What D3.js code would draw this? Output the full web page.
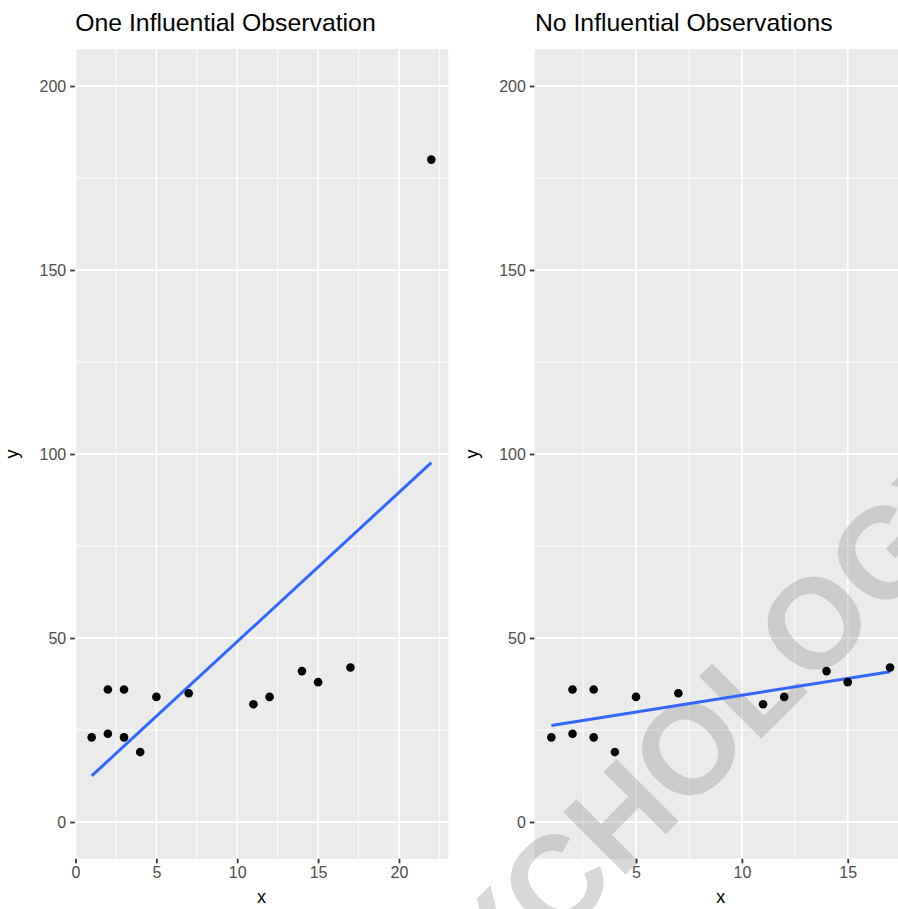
<!DOCTYPE html>
<html>
<head>
<meta charset="utf-8">
<script src="https://cdn.jsdelivr.net/npm/d3@7"></script>
<style>
  html, body { margin: 0; padding: 0; background: #ffffff; }
  svg { display: block; font-family: "Liberation Sans", Arial, Helvetica, sans-serif; }
</style>
</head>
<body>
<svg id="chart" width="898" height="909"></svg>
<script>
// ---------- data ----------
const xAll = [1, 2, 2, 3, 3, 4, 5, 7, 11, 12, 14, 15, 17, 22];
const yAll = [23, 36, 24, 36, 23, 19, 34, 35, 32, 34, 41, 38, 42, 180];
const xNoInfl = [1, 2, 2, 3, 3, 4, 5, 7, 11, 12, 14, 15, 17];
const yNoInfl = [23, 36, 24, 36, 23, 19, 34, 35, 32, 34, 41, 38, 42];
const titles = ["One Influential Observation", "No Influential Observations"];
const yLimits = [0, 200];
const yTicks = [0, 50, 100, 150, 200];
const yMinor = [25, 75, 125, 175];
const xTicksLeft = [0, 5, 10, 15, 20];
const xMinorLeft = [2.5, 7.5, 12.5, 17.5, 22.5];
const xTicksRight = [5, 10, 15];
const xMinorRight = [2.5, 7.5, 12.5, 17.5];
const watermarkText = "PSYCHOLOGY";

// ---------- helpers ----------
function expand(lo, hi) { const d = (hi - lo) * 0.05; return [lo - d, hi + d]; }
function ols(xs, ys) {
  const n = xs.length, mx = d3.mean(xs), my = d3.mean(ys);
  let sxy = 0, sxx = 0;
  for (let i = 0; i < n; i++) { sxy += (xs[i] - mx) * (ys[i] - my); sxx += (xs[i] - mx) ** 2; }
  const b = sxy / sxx; return { a: my - b * mx, b };
}

const svg = d3.select("#chart");
svg.append("rect").attr("width", 898).attr("height", 909).attr("fill", "#ffffff");

const panels = [
  { xs: xAll, ys: yAll, title: titles[0], ticks: xTicksLeft, minor: xMinorLeft, left: 74.7, right: 448.3, ylabX: 18 },
  { xs: xNoInfl, ys: yNoInfl, title: titles[1], ticks: xTicksRight, minor: xMinorRight, left: 534.4, right: 907, ylabX: 478 }
];
const panelTop = 49.2, panelBottom = 858.8;

const layerBg = svg.append("g");
const layerWm = svg.append("g");
const layerFg = svg.append("g");

panels.forEach(p => {
  const x = d3.scaleLinear().domain(expand(d3.min(p.xs), d3.max(p.xs))).range([p.left, p.right]);
  const y = d3.scaleLinear().domain(expand(yLimits[0], yLimits[1])).range([panelBottom, panelTop]);

  // panel background + grid
  const bg = layerBg.append("g");
  bg.append("rect").attr("x", p.left).attr("y", panelTop).attr("width", p.right - p.left).attr("height", panelBottom - panelTop).attr("fill", "#ebebeb");
  bg.selectAll(".ymin").data(yMinor).join("line")
    .attr("x1", p.left).attr("x2", p.right).attr("y1", d => y(d)).attr("y2", d => y(d))
    .attr("stroke", "#ffffff").attr("stroke-width", 0.9);
  bg.selectAll(".xmin").data(p.minor).join("line")
    .attr("y1", panelTop).attr("y2", panelBottom).attr("x1", d => x(d)).attr("x2", d => x(d))
    .attr("stroke", "#ffffff").attr("stroke-width", 0.9);
  bg.selectAll(".ymaj").data(yTicks).join("line")
    .attr("x1", p.left).attr("x2", p.right).attr("y1", d => y(d)).attr("y2", d => y(d))
    .attr("stroke", "#ffffff").attr("stroke-width", 1.8);
  bg.selectAll(".xmaj").data(p.ticks).join("line")
    .attr("y1", panelTop).attr("y2", panelBottom).attr("x1", d => x(d)).attr("x2", d => x(d))
    .attr("stroke", "#ffffff").attr("stroke-width", 1.8);

  const fg = layerFg.append("g");
  // axes
  const yAxis = d3.axisLeft(y).tickValues(yTicks).tickSize(4.5).tickPadding(4);
  const ya = fg.append("g").attr("transform", `translate(${p.left},0)`).call(yAxis);
  const xAxis = d3.axisBottom(x).tickValues(p.ticks).tickSize(4.5).tickPadding(3);
  const xa = fg.append("g").attr("transform", `translate(0,${panelBottom})`).call(xAxis);
  [ya, xa].forEach(a => {
    a.select(".domain").remove();
    a.selectAll(".tick line").attr("stroke", "#333333").attr("stroke-width", 1.8);
    a.selectAll(".tick text").attr("fill", "#4d4d4d").style("font-size", "16px")
      .style("font-family", "Liberation Sans, Arial, sans-serif");
  });

  // regression line
  const fit = ols(p.xs, p.ys);
  const ext = d3.extent(p.xs);
  fg.append("line")
    .attr("x1", x(ext[0])).attr("y1", y(fit.a + fit.b * ext[0]))
    .attr("x2", x(ext[1])).attr("y2", y(fit.a + fit.b * ext[1]))
    .attr("stroke", "#3366ff").attr("stroke-width", 3);

  // points
  fg.selectAll(".pt").data(p.xs.map((v, i) => [v, p.ys[i]])).join("circle")
    .attr("cx", d => x(d[0])).attr("cy", d => y(d[1])).attr("r", 4.3).attr("fill", "#000000");

  // titles
  fg.append("text").attr("x", p.left + 0.5).attr("y", 31).text(p.title)
    .attr("fill", "#000000").style("font-size", "24.8px");
  fg.append("text").attr("x", (p.left + p.right) / 2).attr("y", 903).attr("text-anchor", "middle").text("x")
    .attr("fill", "#000000").style("font-size", "18px");
  fg.append("text").attr("transform", `translate(${p.ylabX},${(panelTop + panelBottom) / 2}) rotate(-90)`)
    .attr("text-anchor", "middle").text("y").attr("fill", "#000000").style("font-size", "18px");
});

// watermark
layerWm.append("text")
  .attr("transform", "translate(373,1127) rotate(-45)")
  .text(watermarkText)
  .attr("fill", "#999999").attr("fill-opacity", 0.38)
  .style("font-size", "128px").style("font-weight", "bold")
  .style("font-family", "Liberation Sans, Arial, sans-serif");
</script>
</body>
</html>
